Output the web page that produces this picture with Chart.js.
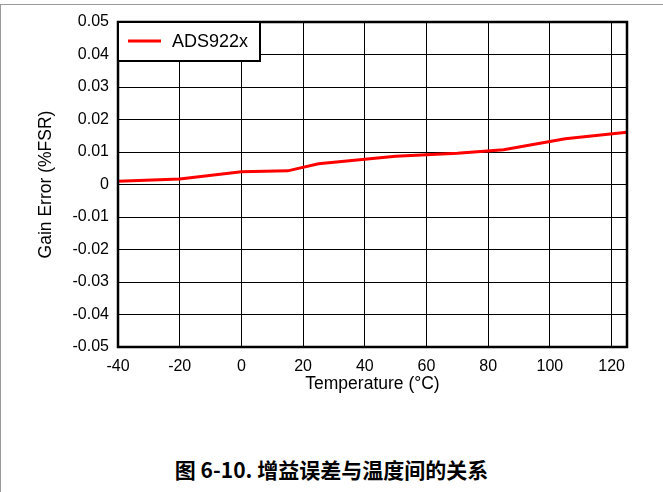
<!DOCTYPE html>
<html>
<head>
<meta charset="utf-8">
<script src="https://cdn.jsdelivr.net/npm/chart.js@4"></script>
<style>
  html, body { margin: 0; padding: 0; background: #fff; }
  body { width: 663px; height: 492px; position: relative; overflow: hidden; }
  .frame { position: absolute; left: 0; top: 4px; width: 700px; height: 600px;
           border-top: 1px solid #9a9a9a; border-left: 1px solid #9a9a9a; }
  #wrap { position: absolute; left: 0; top: 0; width: 663px; height: 440px; }
  .caption { position: absolute; left: 0; width: 663px; top: 457px; text-align: center;
             font: bold 21px "Noto Sans CJK SC", "Liberation Sans", sans-serif; color: #000; line-height: 24px; }
</style>
</head>
<body>
<div class="frame"></div>
<div id="wrap"><canvas id="chart"></canvas></div>
<div class="caption">图 6-10. 增益误差与温度间的关系</div>
<script>
  const temps = [-40, -20, 0, 15, 25, 50, 70, 85, 100, 105, 125];
  const gainError = [0.0010, 0.0017, 0.0039, 0.0042, 0.0064, 0.0087, 0.0096, 0.0107, 0.0132, 0.0141, 0.0161];
  const seriesName = "ADS922x";
  const xTitle = "Temperature (°C)";
  const yTitle = "Gain Error (%FSR)";

  const tickFont = { family: "'Liberation Sans', Arial, sans-serif", size: 16 };
  const titleFont = { family: "'Liberation Sans', Arial, sans-serif", size: 17.5 };

  // frame around plot + legend box inside top-left
  const frameAndLegend = {
    id: "frameAndLegend",
    afterDatasetsDraw(chart) {
      const { ctx, chartArea: a } = chart;
      ctx.save();
      ctx.strokeStyle = "#000";
      ctx.lineWidth = 2.5;
      ctx.strokeRect(a.left, a.top, a.right - a.left, a.bottom - a.top);

      const w = 142, h = 39;
      ctx.fillStyle = "#fff";
      ctx.fillRect(a.left, a.top, w, h);
      ctx.lineWidth = 2;
      ctx.strokeRect(a.left, a.top, w, h);
      ctx.strokeStyle = "#ff0000";
      ctx.lineWidth = 3;
      ctx.beginPath();
      ctx.moveTo(a.left + 10, a.top + 19);
      ctx.lineTo(a.left + 43, a.top + 19);
      ctx.stroke();
      ctx.fillStyle = "#000";
      ctx.font = "18px 'Liberation Sans', Arial, sans-serif";
      ctx.textBaseline = "middle";
      ctx.fillText(seriesName, a.left + 54, a.top + 20);
      ctx.restore();
    }
  };

  new Chart(document.getElementById("chart"), {
    type: "line",
    data: {
      datasets: [{
        label: seriesName,
        data: temps.map((t, i) => ({ x: t, y: gainError[i] })),
        borderColor: "#ff0000",
        borderWidth: 3,
        pointRadius: 0,
        tension: 0,
      }],
    },
    options: {
      responsive: true,
      maintainAspectRatio: false,
      animation: false,
      layout: { padding: { left: 36, top: 22, right: 36, bottom: 45 } },
      plugins: { legend: { display: false }, tooltip: { enabled: false } },
      scales: {
        x: {
          type: "linear",
          min: -40,
          max: 125,
          grid: { color: "#000", lineWidth: 1, drawTicks: false },
          border: { display: false },
          ticks: { stepSize: 20, includeBounds: false, color: "#000", font: tickFont, padding: 10, maxRotation: 0 },
          title: { display: true, text: xTitle, color: "#000", font: titleFont, padding: 0 },
          afterFit: (s) => { s.height = 48; },
        },
        y: {
          min: -0.05,
          max: 0.05,
          grid: { color: "#000", lineWidth: 1, drawTicks: false },
          border: { display: false },
          ticks: {
            stepSize: 0.01,
            color: "#000",
            font: tickFont,
            padding: 9,
            callback: (v) => (Math.abs(v) < 1e-9 ? "0" : v.toFixed(2)),
          },
          title: { display: true, text: yTitle, color: "#000", font: titleFont, padding: 0 },
          afterFit: (s) => { s.width = 82; },
        },
      },
    },
    plugins: [frameAndLegend],
  });
</script>
</body>
</html>
